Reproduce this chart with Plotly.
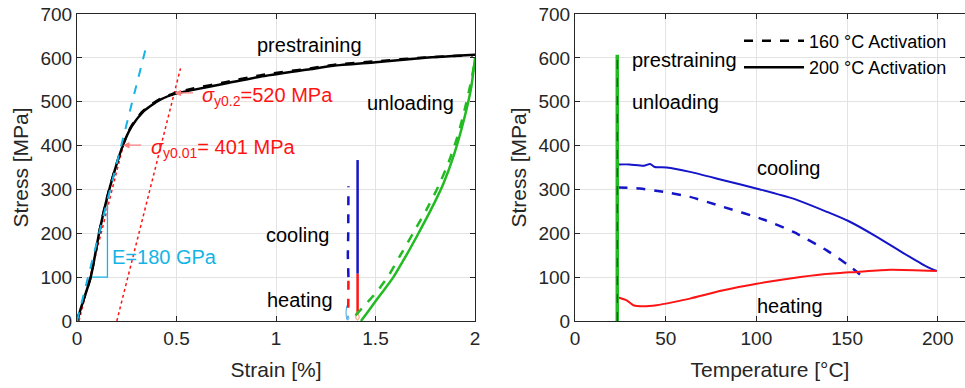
import plotly.graph_objects as go

# ---------------- data: left panel (strain vs stress) ----------------
pre_strain = [0, 0.02, 0.069, 0.111, 0.148, 0.19, 0.231, 0.274, 0.332, 0.416, 0.5, 0.584,
              0.752, 0.919, 1.171, 1.288, 1.5, 1.75, 2.0]
pre_stress = [0, 30, 100, 200, 275, 344, 401, 443, 477, 504, 519, 527,
              542, 557, 574, 582, 590, 600, 607]
pre160_strain = [0, 0.02, 0.069, 0.111, 0.148, 0.19, 0.231, 0.274, 0.332, 0.416, 0.5, 0.584,
                 0.752, 0.919, 1.171, 1.288, 1.5, 1.75, 1.99]
pre160_stress = [0, 31, 101, 201, 276, 345, 402, 445, 479, 506, 521, 530,
                 545, 560, 576, 584, 592, 601, 606]

unl200_strain = [1.427, 1.46, 1.5, 1.545, 1.59, 1.65, 1.71, 1.78, 1.84, 1.895, 1.945, 1.98, 2.0]
unl200_stress = [0, 20, 45, 72, 100, 146, 195, 255, 312, 380, 460, 530, 600]
unl160_strain = [1.40, 1.45, 1.5, 1.561, 1.625, 1.69, 1.755, 1.815, 1.87, 1.915, 1.955, 1.982, 2.0]
unl160_stress = [13, 38, 63, 100, 150, 201, 253, 306, 365, 425, 495, 550, 595]

heat200_strain = [1.41, 1.41]
heat200_stress = [22, 108]
cool200_strain = [1.41, 1.41]
cool200_stress = [108, 367]
heat160_strain = [1.363, 1.362, 1.364]
heat160_stress = [30, 65, 100]
cool160_strain = [1.364, 1.361, 1.363, 1.362, 1.364]
cool160_stress = [100, 150, 200, 250, 307]

curlA_strain = [1.357, 1.352, 1.354, 1.36, 1.366, 1.362, 1.356]
curlA_stress = [36, 22, 8, 2, 6, 12, 4]
curlB_strain = [1.407, 1.401, 1.403, 1.41, 1.418, 1.414, 1.408]
curlB_stress = [24, 14, 5, 2, 7, 15, 22]

emod_strain = [0, 0.35]
emod_stress = [0, 630]
tri_strain = [0.06, 0.153, 0.153]
tri_stress = [100, 100, 275]
off1_strain = [0.01, 0.24]
off1_stress = [0, 414]
off2_strain = [0.2, 0.52]
off2_stress = [0, 576]

# ---------------- data: right panel (temperature vs stress) ----------------
load_temp = [23.3, 23.3]
load_stress = [0, 607]

cool200_temp = [23.9, 30, 38, 41.4, 44, 50.5, 63.4, 81.8, 102, 120.4, 138.8, 150.7,
                166.4, 181, 193.9, 199.4]
cool200_T_stress = [357, 357, 354, 358, 351, 350, 340, 321, 300, 279, 249, 228,
                    192, 155, 124, 114]
cool160_temp = [23.9, 35.8, 48.7, 63.4, 81.8, 103.8, 120.4, 138.8, 150.7, 159]
cool160_T_stress = [304.5, 302, 294.5, 283, 260, 231.5, 203, 161, 127, 100]
heat200_temp = [23.9, 28.5, 32.2, 37.7, 45, 54.2, 63.4, 81.8, 100.2, 118.6, 136.9,
                155.3, 173.7, 199.4]
heat200_T_stress = [53.4, 47, 36, 33.5, 36, 43, 51, 70, 85, 97, 106.6,
                    112, 117, 114]

# ---------------- figure ----------------
FONT = "Arial, Liberation Sans, sans-serif"
BLUE = "#1414C8"
RED = "#FF1414"
GREEN = "#22BB22"
CYAN = "#14B4E6"
SALMON = "#FF7F7F"

fig = go.Figure()

def add(x, y, color, width=2, dash="solid", xa="x", ya="y", smooth=False):
    line = dict(color=color, width=width, dash=dash)
    if smooth:
        line.update(shape="spline", smoothing=0.6)
    fig.add_trace(go.Scatter(x=x, y=y, mode="lines", xaxis=xa, yaxis=ya, line=line,
                             showlegend=False, hoverinfo="skip"))

# left panel
add(off1_strain, off1_stress, RED, 1.5, "dot")
add(off2_strain, off2_stress, RED, 1.5, "dot")
add(tri_strain, tri_stress, CYAN, 1.3)
add(pre160_strain, pre160_stress, "black", 2.5, "dash", smooth=True)
add(pre_strain, pre_stress, "black", 2.5, smooth=True)
add(emod_strain, emod_stress, CYAN, 2, "dash")
add(curlA_strain, curlA_stress, "#3C9BE0", 1, smooth=True)
add(curlB_strain, curlB_stress, "#F08C5A", 1, smooth=True)
add(heat160_strain, heat160_stress, RED, 2.5, "dash")
add(cool160_strain, cool160_stress, BLUE, 2.5, "dash")
add(heat200_strain, heat200_stress, RED, 2.5)
add(cool200_strain, cool200_stress, BLUE, 2.5)
add(unl160_strain, unl160_stress, GREEN, 2.5, "dash", smooth=True)
add(unl200_strain, unl200_stress, GREEN, 2.5, smooth=True)

# right panel
add(cool160_temp, cool160_T_stress, BLUE, 2.5, "dash", "x2", "y2", smooth=True)
add(cool200_temp, cool200_T_stress, BLUE, 2, "solid", "x2", "y2", smooth=True)
add(heat200_temp, heat200_T_stress, RED, 2, "solid", "x2", "y2", smooth=True)
add(load_temp, load_stress, GREEN, 3.5, "solid", "x2", "y2")
add(load_temp, load_stress, "#333333", 1, "dash", "x2", "y2")

# legend entries
fig.add_trace(go.Scatter(x=[None], y=[None], mode="lines", xaxis="x2", yaxis="y2",
                         line=dict(color="black", width=2.5, dash="dash"),
                         name="160 °C Activation"))
fig.add_trace(go.Scatter(x=[None], y=[None], mode="lines", xaxis="x2", yaxis="y2",
                         line=dict(color="black", width=2.5),
                         name="200 °C Activation"))

axis_common = dict(showline=True, linecolor="#262626", linewidth=1, mirror="ticks",
                   ticks="inside", ticklen=5, tickcolor="#262626", automargin=False,
                   showgrid=True, gridcolor="#E3E3E3", gridwidth=1, zeroline=False,
                   tickfont=dict(family=FONT, size=19, color="#262626"))

TITLE_FONT = dict(family=FONT, size=21, color="#262626")
fig.update_layout(
    width=965, height=388,
    margin=dict(l=77, r=0, t=14, b=67, autoexpand=False),
    paper_bgcolor="white", plot_bgcolor="white",
    font=dict(family=FONT, color="#262626"),
    xaxis=dict(domain=[0, 0.4482], range=[0, 2], tickvals=[0, 0.5, 1, 1.5, 2],
               ticktext=["0", "0.5", "1", "1.5", "2"],
               title=dict(text="Strain [%]", font=TITLE_FONT, standoff=14),
               **axis_common),
    yaxis=dict(domain=[0, 1], range=[0, 700], dtick=100,
               title=dict(text="Stress [MPa]", font=TITLE_FONT, standoff=6),
               **axis_common),
    xaxis2=dict(domain=[0.5608, 1], range=[0, 215], tickvals=[0, 50, 100, 150, 200],
                anchor="y2",
                title=dict(text="Temperature [°C]", font=TITLE_FONT, standoff=14),
                **axis_common),
    yaxis2=dict(domain=[0, 1], range=[0, 700], dtick=100, anchor="x2",
                title=dict(text="Stress [MPa]", font=TITLE_FONT, standoff=6),
                **axis_common),
    legend=dict(x=0.7455, y=0.972, xanchor="left", yanchor="top",
                bgcolor="rgba(255,255,255,0)", borderwidth=0,
                font=dict(family=FONT, size=18, color="black"),
                itemwidth=60, tracegroupgap=0),
    showlegend=True,
)

TXT = dict(family=FONT, size=20, color="black")
RTXT = dict(family=FONT, size=20, color=RED)
ann = [
    dict(x=1.17, y=629, text="prestraining", xref="x", yref="y", showarrow=False, font=TXT),
    dict(x=1.677, y=498, text="unloading", xref="x", yref="y", showarrow=False, font=TXT),
    dict(x=1.11, y=197, text="cooling", xref="x", yref="y", showarrow=False, font=TXT),
    dict(x=1.12, y=47, text="heating", xref="x", yref="y", showarrow=False, font=TXT),
    dict(x=0.168, y=145, text="E=180 GPa", xref="x", yref="y", showarrow=False,
         xanchor="left", font=dict(family=FONT, size=20, color=CYAN)),
    dict(x=0.231, y=401, ax=0.33, ay=401, axref="x", ayref="y", xref="x", yref="y", text="",
         showarrow=True, arrowhead=2, arrowsize=1, arrowwidth=1.3, arrowcolor=SALMON),
    dict(x=0.49, y=520, ax=0.59, ay=520, axref="x", ayref="y", xref="x", yref="y", text="",
         showarrow=True, arrowhead=2, arrowsize=1, arrowwidth=1.3, arrowcolor=SALMON),
    dict(x=0.36, y=394, text="<i>σ</i><sub>y0.01</sub>= 401 MPa", xref="x", yref="y",
         showarrow=False, xanchor="left", font=RTXT),
    dict(x=0.62, y=513, text="<i>σ</i><sub>y0.2</sub>=520 MPa", xref="x", yref="y",
         showarrow=False, xanchor="left", font=RTXT),
    dict(x=30.3, y=595, text="prestraining", xref="x2", yref="y2", showarrow=False,
         xanchor="left", font=TXT),
    dict(x=30.3, y=500, text="unloading", xref="x2", yref="y2", showarrow=False,
         xanchor="left", font=TXT),
    dict(x=117.6, y=348, text="cooling", xref="x2", yref="y2", showarrow=False, font=TXT),
    dict(x=118.6, y=33.5, text="heating", xref="x2", yref="y2", showarrow=False, font=TXT),
]
fig.update_layout(annotations=ann)

fig.write_html("out.html")
